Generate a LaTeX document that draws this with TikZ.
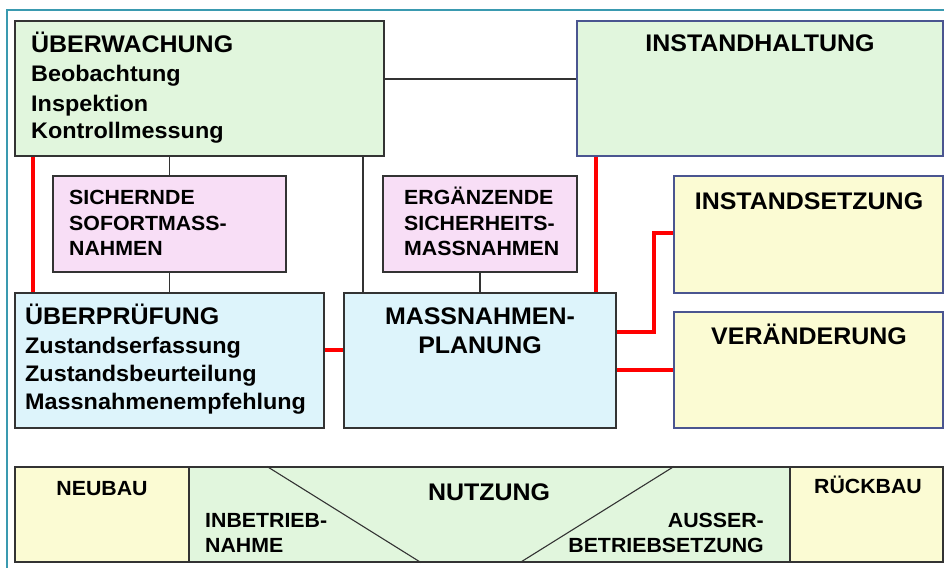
\documentclass[tikz,border=0pt]{standalone}
\usepackage{fontspec}
\setmainfont{Liberation Sans}[FakeStretch=1.04]
\usetikzlibrary{fit}
\definecolor{gfill}{HTML}{E1F6DD}
\definecolor{pfill}{HTML}{F8DEF6}
\definecolor{bfill}{HTML}{DDF4FB}
\definecolor{yfill}{HTML}{FBFBD3}
\definecolor{dline}{HTML}{333333}
\definecolor{bline}{HTML}{4A5590}
\definecolor{frame}{HTML}{3A9AB0}
\tikzset{
  box/.style={draw=dline, line width=1.1pt, inner sep=0pt},
  bbox/.style={draw=bline, line width=1.1pt, inner sep=0pt},
  conn/.style={draw=dline, line width=1.1pt},
  redconn/.style={draw=red, line width=3.5pt},
  ttl/.style={font=\fontsize{24}{29}\selectfont\bfseries, inner sep=0pt},
  itm/.style={font=\fontsize{22.5}{29}\selectfont\bfseries, inner sep=0pt, align=left},
  sml/.style={font=\fontsize{20.5}{25.5}\selectfont\bfseries, inner sep=0pt, align=left},
}
\begin{document}
\begin{tikzpicture}[x=1pt,y=-1pt]
\useasboundingbox (0,0) rectangle (944,567);
\fill[white] (0,0) rectangle (944,567);
\draw[frame, line width=1.2pt] (7,570) -- (7,10) -- (950,10);
% boxes
\node[box, fill=gfill, fit={(15,21)(384,156)}] (uew) {};
\node[bbox, fill=gfill, fit={(577,21)(943,156)}] (ih) {};
\node[box, fill=pfill, fit={(53,176)(286,272)}] (sich) {};
\node[box, fill=pfill, fit={(383,176)(577,272)}] (erg) {};
\node[bbox, fill=yfill, fit={(674,176)(943,293)}] (isz) {};
\node[bbox, fill=yfill, fit={(674,312)(943,428)}] (vrd) {};
\node[box, fill=bfill, fit={(15,293)(324,428)}] (uep) {};
\node[box, fill=bfill, fit={(344,293)(616,428)}] (mp) {};
\node[box, fill=yfill, fit={(15,467)(189,562)}] (neu) {};
\node[box, fill=gfill, fit={(189,467)(790,562)}] (nutz) {};
\node[box, fill=yfill, fit={(790,467)(943,562)}] (rueck) {};
% diagonals
\draw[conn] (nutz.north -| 267,0) -- (nutz.south -| 421,0);
\draw[conn] (nutz.north -| 674,0) -- (nutz.south -| 520,0);
% connectors
\draw[conn] (uew.east |- 0,79) -- (ih.west |- 0,79);
\draw[conn] (uew.south -| sich.north) -- (sich.north);
\draw[conn] (sich.south) -- (uep.north -| sich.south);
\draw[conn] (uew.south -| 363,0) -- (mp.north -| 363,0);
\draw[conn] (erg.south) -- (mp.north -| erg.south);
\draw[redconn] (uew.south -| 33,0) -- (uep.north -| 33,0);
\draw[redconn] (ih.south -| 596,0) -- (mp.north -| 596,0);
\draw[redconn] (uep.east |- 0,350) -- (mp.west |- 0,350);
\draw[redconn] (mp.east |- 0,332) -| (654,233) -- (isz.west |- 0,233);
\draw[redconn] (mp.east |- 0,370) -- (vrd.west |- 0,370);
% texts
\node[ttl, anchor=base west] (tuew) at (31,53) {ÜBERWACHUNG};
\node[itm, anchor=base west] (tuew2) at (31,82) {Beobachtung};
\node[itm, anchor=base west] (tuew3) at (31,111) {Inspektion};
\node[itm, anchor=base west] (tuew4) at (31,139) {Kontrollmessung};
\node[ttl, anchor=base] (tih) at (760,52) {INSTANDHALTUNG};
\node[sml, anchor=base west] (ts1) at (69,204) {SICHERNDE};
\node[sml, anchor=base west] (ts2) at (69,230) {SOFORTMASS-};
\node[sml, anchor=base west] (ts3) at (69,255) {NAHMEN};
\node[sml, anchor=base west] (te1) at (404,204) {ERGÄNZENDE};
\node[sml, anchor=base west] (te2) at (404,230) {SICHERHEITS-};
\node[sml, anchor=base west] (te3) at (404,255) {MASSNAHMEN};
\node[ttl, anchor=base] (tisz) at (809,209) {INSTANDSETZUNG};
\node[ttl, anchor=base] (tvrd) at (809,344) {VERÄNDERUNG};
\node[ttl, anchor=base west] (tuep) at (25,324) {ÜBERPRÜFUNG};
\node[itm, anchor=base west] (tuep2) at (25,353) {Zustandserfassung};
\node[itm, anchor=base west] (tuep3) at (25,381) {Zustandsbeurteilung};
\node[itm, anchor=base west] (tuep4) at (25,409) {Massnahmenempfehlung};
\node[ttl, anchor=base] (tmp1) at (480,324) {MASSNAHMEN-};
\node[ttl, anchor=base] (tmp2) at (480,353) {PLANUNG};
\node[sml, anchor=base] (tneu) at (102,495) {NEUBAU};
\node[ttl, anchor=base] (tnutz) at (489,500) {NUTZUNG};
\node[sml, anchor=base west] (tin1) at (205,527) {INBETRIEB-};
\node[sml, anchor=base west] (tin2) at (205,552) {NAHME};
\node[sml, anchor=base east] (tau1) at (764,527) {AUSSER-};
\node[sml, anchor=base east] (tau2) at (764,552) {BETRIEBSETZUNG};
\node[sml, anchor=base] (trueck) at (868,493) {RÜCKBAU};
\end{tikzpicture}
\end{document}
